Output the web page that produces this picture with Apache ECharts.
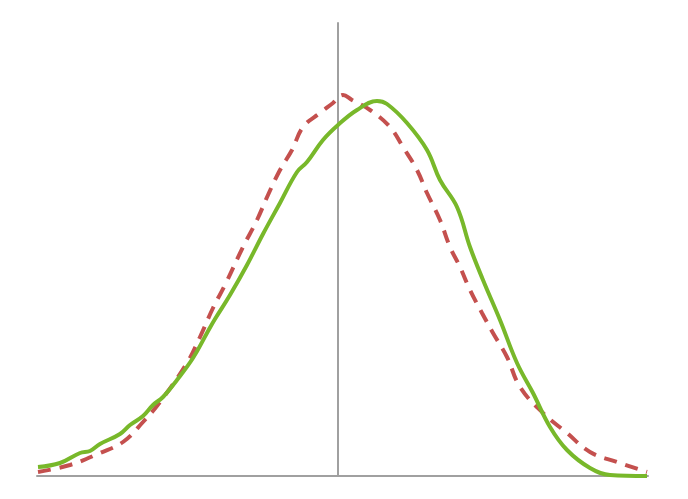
<!DOCTYPE html>
<html><head><meta charset="utf-8">
<script src="https://cdn.jsdelivr.net/npm/echarts@6/dist/echarts.min.js"></script>
<style>html,body{margin:0;padding:0;background:#fff}#c{width:688px;height:499px}</style>
</head><body><div id="c"></div>
<script>
const greenX = [-300,-278,-258,-248,-238,-218,-208,-195,-185,-175,-161,-145,-131,-123,-108,-91,-75,-58,-41,-31,-15,0,19,39,49,69,89,102,119,132,145,162,179,195,212,229,252,272,309];
const greenY = [9,13,23,25,32,42,51,60,71,79,96,118,143,157,181,211,242,273,304,314,336,351,366,375,372,353,326,296,269,229,196,156,113,83,49,26,8,1,0];
const redX = [-300,-268,-238,-215,-195,-178,-151,-138,-125,-113,-95,-81,-70,-58,-46,-35,-18,-5,5,14,32,52,65,79,89,102,112,122,132,144,155,169,182,205,229,252,279,309];
const redY = [4,11,23,34,54,74,113,139,168,191,229,256,281,306,326,349,363,373,381,376,366,349,329,306,283,256,229,209,186,163,143,119,89,63,43,24,14,4];

const zip = (xs, ys) => xs.map((x, i) => [x, ys[i]]);
const chart = echarts.init(document.getElementById('c'), null, {renderer: 'canvas'});
chart.setOption({
  animation: false,
  grid: {left: 37, right: 40, top: 23, bottom: 23},
  xAxis: {type: 'value', min: -301, max: 310,
    axisLine: {show: true, lineStyle: {color: '#a0a0a0', width: 2}},
    axisTick: {show: false}, axisLabel: {show: false}, splitLine: {show: false}},
  yAxis: {type: 'value', min: 0, max: 453,
    axisLine: {show: true, onZero: true, lineStyle: {color: '#a0a0a0', width: 2}},
    axisTick: {show: false}, axisLabel: {show: false}, splitLine: {show: false}},
  series: [
    {type: 'line', data: zip(redX, redY), smooth: 0.4, showSymbol: false,
     lineStyle: {color: '#c4504e', width: 4, type: [13, 9]}, z: 2},
    {type: 'line', data: zip(greenX, greenY), smooth: 0.4, showSymbol: false,
     lineStyle: {color: '#78b82a', width: 4}, z: 3}
  ]
});
</script></body></html>
